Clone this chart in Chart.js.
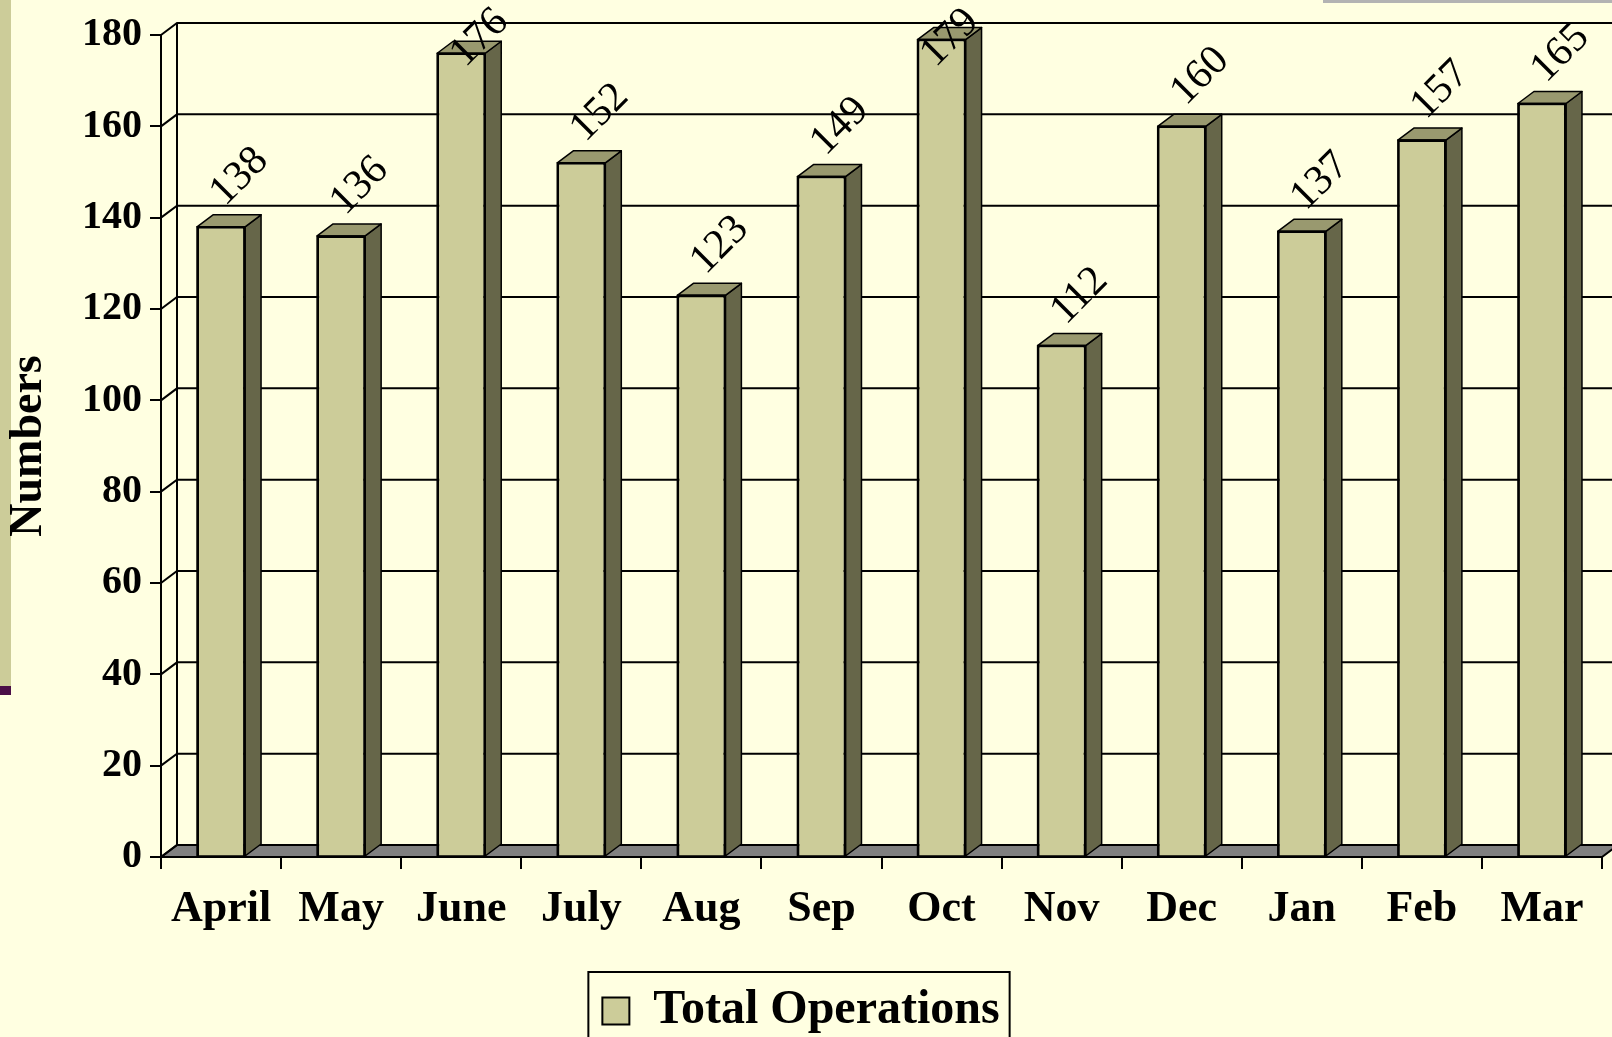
<!DOCTYPE html>
<html lang="en">
<head>
    <meta charset="UTF-8">
    <title>Total Operations</title>
    <script src="https://cdn.jsdelivr.net/npm/chart.js"></script>
    <style>
        body {
            margin: 0;
            background: #FFFFE1;
            overflow: hidden;
        }
        #opsChart {
            display: block;
        }
    </style>
</head>
<body>
    <canvas id="opsChart" width="1612" height="1037"></canvas>

    <script>
        // Datos del grafico
        const months = ['April', 'May', 'June', 'July', 'Aug', 'Sep', 'Oct', 'Nov', 'Dec', 'Jan', 'Feb', 'Mar'];
        const totalOperations = [138, 136, 176, 152, 123, 149, 179, 112, 160, 137, 157, 165];
        const yMin = 0;
        const yMax = 180;
        const yStep = 20;

        // profundidad del efecto 3D
        const DX = 16;
        const DY = 12;
        const serif = '"Liberation Serif", "DejaVu Serif", serif';

        function poly(ctx, pts, fill) {
            ctx.beginPath();
            ctx.moveTo(pts[0][0], pts[0][1]);
            for (let i = 1; i < pts.length; i++) ctx.lineTo(pts[i][0], pts[i][1]);
            ctx.closePath();
            ctx.fillStyle = fill;
            ctx.fill();
            ctx.stroke();
        }

        const threeD = {
            id: 'threeD',
            beforeDraw(chart) {
                const ctx = chart.ctx;
                ctx.save();
                ctx.fillStyle = '#FFFFE1';
                ctx.fillRect(0, 0, chart.width, chart.height);
                // adornos de la diapositiva
                ctx.fillStyle = '#CCCC99';
                ctx.fillRect(0, 0, 11, 686);
                ctx.fillStyle = '#4A0E47';
                ctx.fillRect(0, 686, 11, 9);
                ctx.fillStyle = '#B3B3B3';
                ctx.fillRect(1323, 0, chart.width - 1323, 3);
                ctx.restore();
            },
            beforeDatasetsDraw(chart) {
                const ctx = chart.ctx;
                const y = chart.scales.y;
                const a = chart.chartArea;
                ctx.save();
                ctx.strokeStyle = '#000';
                ctx.lineWidth = 2;
                // suelo
                const y0 = y.getPixelForValue(0);
                poly(ctx, [[a.left, y0], [a.left + DX, y0 - DY], [a.right + DX, y0 - DY], [a.right, y0]], '#808080');
                // pared del fondo
                for (let v = yMin; v <= yMax; v += yStep) {
                    const yf = y.getPixelForValue(v);
                    ctx.beginPath();
                    ctx.moveTo(a.left, yf);
                    ctx.lineTo(a.left + DX, yf - DY);
                    if (v > 0) ctx.lineTo(chart.width + 10, yf - DY);
                    ctx.stroke();
                }
                ctx.beginPath();
                ctx.moveTo(a.left + DX, y.getPixelForValue(yMax) - DY);
                ctx.lineTo(a.left + DX, y0 - DY);
                ctx.stroke();
                ctx.restore();
            },
            afterDatasetsDraw(chart) {
                const ctx = chart.ctx;
                const meta = chart.getDatasetMeta(0);
                ctx.save();
                ctx.strokeStyle = '#000';
                ctx.lineWidth = 1.5;
                ctx.lineJoin = 'round';
                meta.data.forEach((bar, i) => {
                    const xl = bar.x - bar.width / 2;
                    const xr = bar.x + bar.width / 2;
                    // cara lateral
                    poly(ctx, [[xr, bar.y], [xr + DX, bar.y - DY], [xr + DX, bar.base - DY], [xr, bar.base]], '#666649');
                    // cara superior
                    poly(ctx, [[xl, bar.y], [xl + DX, bar.y - DY], [xr + DX, bar.y - DY], [xr, bar.y]], '#99996F');
                    ctx.strokeRect(xl, bar.y, bar.width, bar.base - bar.y);
                });
                // etiquetas de valor giradas
                ctx.fillStyle = '#000';
                ctx.font = '42px ' + serif;
                ctx.textAlign = 'left';
                ctx.textBaseline = 'alphabetic';
                meta.data.forEach((bar, i) => {
                    let px = bar.x + 4;
                    let py = bar.y - 20;
                    if (py < 68) {
                        // empujar hacia abajo las etiquetas que no caben
                        px -= Math.max(0, 68 - py - 35) * 0.75;
                        py = 68;
                    }
                    ctx.save();
                    ctx.translate(px, py);
                    ctx.rotate(-Math.PI / 4);
                    ctx.fillText(String(totalOperations[i]), 0, 0);
                    ctx.restore();
                });
                ctx.restore();
            },
            afterDraw(chart) {
                // marco de la leyenda
                const hb = chart.legend.legendHitBoxes[0];
                if (!hb) return;
                const ctx = chart.ctx;
                ctx.save();
                ctx.strokeStyle = '#000';
                ctx.lineWidth = 2;
                ctx.strokeRect(hb.left - 14, hb.top - 15, hb.width + 24, 120);
                ctx.restore();
            }
        };

        window.onload = function () {
            const ctx = document.getElementById('opsChart').getContext('2d');
            new Chart(ctx, {
                type: 'bar',
                data: {
                    labels: months,
                    datasets: [{
                        label: 'Total Operations',
                        data: totalOperations,
                        backgroundColor: '#CCCC99',
                        borderColor: '#000',
                        borderWidth: 2,
                        barPercentage: 0.4,
                        categoryPercentage: 1.0
                    }]
                },
                options: {
                    responsive: false,
                    animation: false,
                    layout: {
                        padding: { left: 0, top: 35, right: 10, bottom: -8 }
                    },
                    plugins: {
                        tooltip: { enabled: false },
                        legend: {
                            position: 'bottom',
                            labels: {
                                color: '#000',
                                font: { family: serif, size: 48, weight: 'bold' },
                                boxWidth: 27,
                                boxHeight: 27,
                                padding: 10
                            }
                        }
                    },
                    scales: {
                        x: {
                            grid: {
                                offset: true,
                                drawOnChartArea: false,
                                drawTicks: true,
                                tickLength: 12,
                                color: '#000',
                                lineWidth: 2
                            },
                            border: { display: true, color: '#000', width: 2 },
                            ticks: {
                                color: '#000',
                                font: { family: serif, size: 44, weight: 'bold' },
                                padding: 14,
                                maxRotation: 0,
                                autoSkip: false
                            },
                            afterFit(scale) { scale.height = 120; }
                        },
                        y: {
                            min: yMin,
                            max: yMax,
                            grid: {
                                drawOnChartArea: false,
                                drawTicks: true,
                                tickLength: 11,
                                color: '#000',
                                lineWidth: 2
                            },
                            border: { display: true, color: '#000', width: 2 },
                            ticks: {
                                stepSize: yStep,
                                color: '#000',
                                font: { family: serif, size: 40, weight: 'bold' },
                                padding: 8
                            },
                            title: {
                                display: true,
                                text: 'Numbers',
                                color: '#000',
                                font: { family: serif, size: 46, weight: 'bold' },
                                padding: { top: 2, bottom: 0 }
                            },
                            afterFit(scale) { scale.width = 161; }
                        }
                    }
                },
                plugins: [threeD]
            });
        };
    </script>
</body>
</html>
